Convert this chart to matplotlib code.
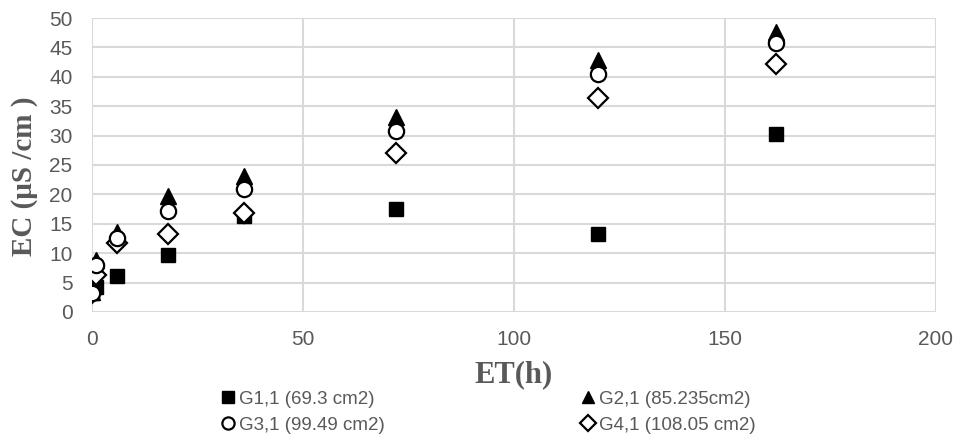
import matplotlib
matplotlib.use("Agg")
import matplotlib.pyplot as plt

# elapsed time (h) and EC readings for each sample
et_hours = [0, 1, 6, 18, 36, 72, 120, 162]
g1_ec = [3.3, 4.2, 6.1, 9.7, 16.4, 17.6, 13.2, 30.2]
g2_ec = [3.4, 8.9, 13.6, 19.7, 23.2, 33.2, 42.9, 47.6]
g3_ec = [3.3, 8.0, 12.5, 17.1, 21.0, 30.8, 40.4, 45.7]
g4_ec = [3.3, 6.3, 11.7, 13.2, 16.8, 27.1, 36.4, 42.2]

labels = ["G1,1 (69.3 cm2)", "G2,1 (85.235cm2)", "G3,1 (99.49 cm2)", "G4,1 (108.05 cm2)"]
x_ticks = [0, 50, 100, 150, 200]
y_ticks = [0, 5, 10, 15, 20, 25, 30, 35, 40, 45, 50]

grey = "#595959"
grid_col = "#d9d9d9"
plt.rcParams["font.family"] = ["Liberation Sans", "DejaVu Sans"]

fig = plt.figure(figsize=(9.55, 4.4), dpi=100)
ax = fig.add_axes([0.0963, 0.291, 0.8837, 0.668])

h1, = ax.plot(et_hours, g1_ec, ls="none", marker="s", ms=10, mfc="black", mec="black", label=labels[0])
h4, = ax.plot(et_hours, g4_ec, ls="none", marker="D", ms=10, mfc="white", mec="black", mew=1.6, label=labels[3])
h2, = ax.plot(et_hours, g2_ec, ls="none", marker="^", ms=11, mfc="black", mec="black", label=labels[1])
h3, = ax.plot(et_hours, g3_ec, ls="none", marker="o", ms=11, mfc="white", mec="black", mew=1.6, label=labels[2])

ax.set_xlim(0, 200)
ax.set_ylim(0, 50)
ax.set_xticks(x_ticks)
ax.set_yticks(y_ticks)
ax.grid(True, color=grid_col, lw=1.5)
ax.set_axisbelow(True)
for s in ax.spines.values():
    s.set_visible(False)
ax.tick_params(length=0, labelsize=15, labelcolor=grey)
ax.tick_params(axis="y", pad=14)
ax.tick_params(axis="x", pad=13)

ax.set_xlabel("ET(h)", family="Liberation Serif", fontweight="bold", fontsize=22, color=grey, labelpad=8)
ax.set_ylabel("EC (μS /cm )", family="Liberation Serif", fontweight="bold", fontsize=21, color=grey)
ax.yaxis.set_label_coords(-0.064, 0.463)

fig.legend([h1, h3, h2, h4], [labels[0], labels[2], labels[1], labels[3]],
           ncol=2, loc="center", bbox_to_anchor=(0.512, 0.063), frameon=False,
           fontsize=13.5, labelcolor=grey, handlelength=0.6, handletextpad=0.3,
           columnspacing=10.5, markerscale=0.8, labelspacing=0.45)

fig.savefig("out.png", dpi=100)
